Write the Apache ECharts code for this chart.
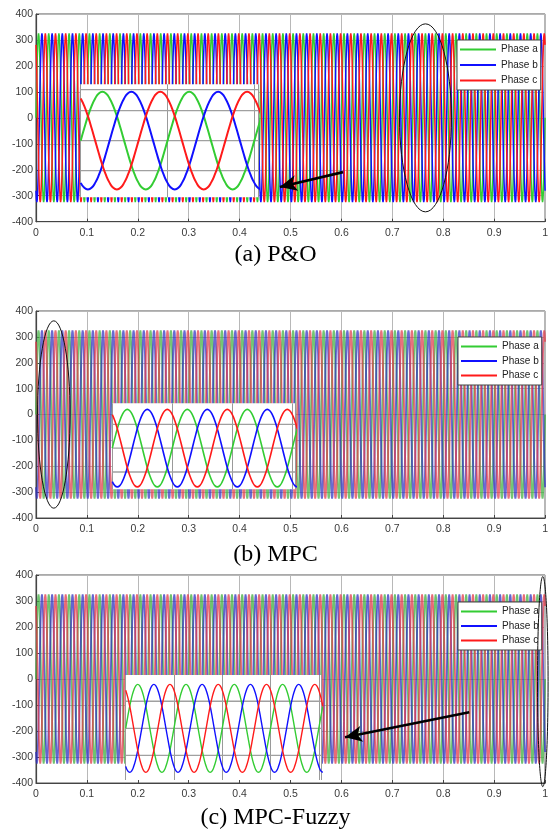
<!DOCTYPE html>
<html><head><meta charset="utf-8">
<script src="https://cdn.jsdelivr.net/npm/echarts@6/dist/echarts.min.js"></script>
<style>html,body{margin:0;padding:0;background:#fff}#c{width:551px;height:833px}</style>
</head><body><div id="c"></div>
<script>
// ---------- data ----------
const phaseNames = ['Phase a', 'Phase b', 'Phase c'];
// one 20 ms cycle of the phase voltage (V), 24 samples
const cycleWave = [0, 84, 163, 230, 281, 314, 325, 314, 281, 230, 163, 84,
                   0, -84, -163, -230, -281, -314, -325, -314, -281, -230, -163, -84];
const cyclesPerSecond = 50;            // stripes counted on the time axis
const runSeconds = 1;
const phaseLagSamples = [0, 8, 16];     // b and c lag a by 1/3 and 2/3 cycle
const insetSpanMs = [41, 61, 81.2];     // time window shown in each inset
const insetYRange = [[-377, 375], [-345, 376], [-382, 394]];
const insetGridValues = [[-200, 0, 200, 340], [-200, 0, 200], [-200, 0, 200]];
const captions = ['(a) P&O', '(b) MPC', '(c) MPC-Fuzzy'];
const arrowFrom = [[0.603, -209], null, [0.851, -128]];
const arrowTo = [[0.479, -266], null, [0.607, -224]];
const ellipseCenter = [[0.765, 0], [0.035, 0], [0.9955, -10]];
const ellipseRadius = [[0.051, 362], [0.032, 362], [0.0104, 404]];

// ---------- layout / style ----------
const mainGrids = [{top: 14, height: 207.7}, {top: 311, height: 207}, {top: 575, height: 208}];
const insetBoxes = [
  {left: 80.7, top: 84.3, width: 178, height: 113},
  {left: 112.3, top: 403.3, width: 183, height: 86},
  {left: 125.7, top: 675, width: 196, height: 105}
];
const legendPos = [{left: 457, top: 40}, {left: 458, top: 337}, {left: 458, top: 602}];
const captionTop = [243, 543, 806];
const colors = [['#33cc33', '#1010ff', '#ff1a1a'], ['#3fae3f', '#3030c0', '#e03a4a'], ['#3fae3f', '#3030c0', '#e03a4a']];
const mainWidth = [1.5, 1.9, 1.8];
const mainOpacity = [1, 0.72, 0.75];
const insetWidth = [2, 1.6, 1.4];
const N = cycleWave.length;

function phaseValue(p, k) {
  return cycleWave[((k - phaseLagSamples[p]) % N + N) % N];
}
function mainData(p) {
  const total = cyclesPerSecond * runSeconds * N;
  const out = [];
  for (let k = 0; k <= total; k++) out.push([k / (cyclesPerSecond * N), phaseValue(p, k)]);
  return out;
}
function insetData(p, span) {
  const stepMs = 1000 / cyclesPerSecond / N;
  const out = [];
  for (let k = 0; k * stepMs <= span + stepMs; k++) out.push([k * stepMs, phaseValue(p, k)]);
  return out;
}

const grid = [], xAxis = [], yAxis = [], series = [], legend = [], title = [];
const axisFont = {fontFamily: 'Liberation Sans, Arial, sans-serif', fontSize: 10.5, color: '#3a3a3a'};

for (let i = 0; i < 3; i++) {
  grid.push({left: 36, width: 511, top: mainGrids[i].top, height: mainGrids[i].height,
    show: true, borderColor: '#555', borderWidth: 1, backgroundColor: '#fff', z: 0});
  xAxis.push({type: 'value', gridIndex: i, min: 0, max: 1, interval: 0.1,
    axisLine: {show: true, onZero: false, lineStyle: {color: '#444', width: 1.2}},
    axisTick: {show: true, inside: true, length: 3, lineStyle: {color: '#444'}},
    axisLabel: Object.assign({margin: 6}, axisFont),
    splitLine: {show: true, lineStyle: {color: '#b8b8b8', width: 1}}, z: 1});
  yAxis.push({type: 'value', gridIndex: i, min: -400, max: 400, interval: 100,
    axisLine: {show: true, onZero: false, lineStyle: {color: '#444', width: 1.2}},
    axisTick: {show: true, inside: true, length: 3, lineStyle: {color: '#444'}},
    axisLabel: Object.assign({margin: 3}, axisFont),
    splitLine: {show: true, lineStyle: {color: '#b8b8b8', width: 1}}, z: 1});
}
for (let i = 0; i < 3; i++) {
  const b = insetBoxes[i];
  grid.push({left: b.left, top: b.top, width: b.width, height: b.height,
    show: true, backgroundColor: '#fff', borderWidth: 0, z: 10});
  xAxis.push({type: 'value', gridIndex: 3 + i, min: 0, max: insetSpanMs[i], interval: 20,
    axisLine: {show: false}, axisTick: {show: false}, axisLabel: {show: false},
    splitLine: {show: true, lineStyle: {color: '#9a9a9a', width: 1}}, z: 11});
  yAxis.push({type: 'value', gridIndex: 3 + i, min: insetYRange[i][0], max: insetYRange[i][1],
    axisLine: {show: false}, axisTick: {show: false}, axisLabel: {show: false},
    splitLine: {show: false}, z: 11});
}

for (let i = 0; i < 3; i++) {
  for (let p = 0; p < 3; p++) {
    const s = {type: 'line', name: phaseNames[p], xAxisIndex: i, yAxisIndex: i,
      data: mainData(p), symbol: 'none', sampling: null, silent: true, animation: false,
      lineStyle: {color: colors[i][p], width: mainWidth[i], opacity: mainOpacity[i]},
      itemStyle: {color: colors[i][p]}, z: 2};
    if (p === 0 && arrowFrom[i]) {
      s.markLine = {silent: true, animation: false, symbol: ['none', 'arrow'], symbolSize: [12, 17],
        label: {show: false}, z: 5,
        lineStyle: {color: '#000', width: 2.6, type: 'solid', opacity: 1},
        data: [[{coord: arrowFrom[i]}, {coord: arrowTo[i]}]]};
    }
    series.push(s);
  }
}
for (let i = 0; i < 3; i++) {
  insetGridValues[i].forEach(v => {
    series.push({type: 'line', xAxisIndex: 3 + i, yAxisIndex: 3 + i, symbol: 'none', silent: true,
      animation: false, data: [[0, v], [insetSpanMs[i], v]],
      lineStyle: {color: '#a0a0a0', width: 1.3}, z: 11});
  });
  for (let p = 0; p < 3; p++) {
    series.push({type: 'line', name: phaseNames[p], xAxisIndex: 3 + i, yAxisIndex: 3 + i,
      data: insetData(p, insetSpanMs[i]), symbol: 'none', smooth: true, silent: true, animation: false,
      lineStyle: {color: colors[0][p], width: insetWidth[i]}, itemStyle: {color: colors[0][p]}, z: 12});
  }
}
for (let i = 0; i < 3; i++) {
  legend.push({orient: 'vertical', left: legendPos[i].left, top: legendPos[i].top,
    data: phaseNames.map((n, p) => ({name: n, itemStyle: {color: colors[0][p], opacity: 1}})),
    icon: 'rect', itemWidth: 36, itemHeight: 2, itemGap: i === 0 ? 4.5 : 3.5,
    backgroundColor: '#fff', borderColor: '#444', borderWidth: 1, padding: [4, 3, 4, 3],
    selectedMode: false, z: 20,
    textStyle: {fontFamily: 'Liberation Sans, Arial, sans-serif', fontSize: 10, color: '#222', lineHeight: 11}});
  title.push({text: captions[i], left: 'center', top: captionTop[i], padding: 0,
    textStyle: {fontFamily: 'Liberation Serif, Times New Roman, serif', fontSize: 24, fontWeight: 'normal', color: '#000'}});
}

const chart = echarts.init(document.getElementById('c'), null, {renderer: 'canvas'});
chart.setOption({animation: false, backgroundColor: '#fff', grid, xAxis, yAxis, series, legend, title});

const graphics = [];
for (let i = 0; i < 3; i++) {
  const c = chart.convertToPixel({gridIndex: i}, ellipseCenter[i]);
  const e = chart.convertToPixel({gridIndex: i},
    [ellipseCenter[i][0] + ellipseRadius[i][0], ellipseCenter[i][1] + ellipseRadius[i][1]]);
  graphics.push({type: 'ellipse', z: 30, silent: true,
    shape: {cx: c[0], cy: c[1], rx: Math.abs(e[0] - c[0]), ry: Math.abs(c[1] - e[1])},
    style: {fill: 'none', stroke: '#111', lineWidth: 1}});
}
chart.setOption({graphic: graphics});
</script></body></html>
